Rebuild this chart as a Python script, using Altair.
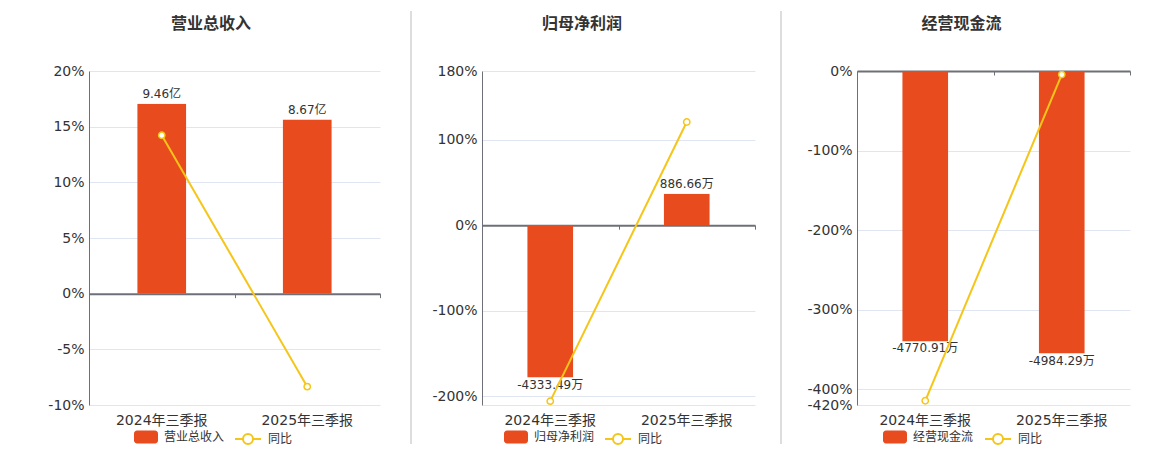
import altair as alt
import pandas as pd

FONT = "DejaVu Sans, Noto Sans CJK SC"
BAR = "#E84B1E"
LINE = "#F5C518"
TXT = "#333333"

periods = ["2024年三季报", "2025年三季报"]
names = ["营业总收入", "归母净利润", "经营现金流"]
units = ["亿", "万", "万"]
amounts_rev = [9.46, 8.67]
amounts_np = [-4333.49, 886.66]
amounts_cf = [-4770.91, -4984.29]
yoy_rev = [14.23, -8.35]
yoy_np = [-205.5, 120.46]
yoy_cf = [-414.7, -4.47]
pct_ticks_rev = [-10, -5, 0, 5, 10, 15, 20]
pct_ticks_np = [-210, -200, -100, 0, 100, 180]
pct_ticks_cf = [-420, -400, -300, -200, -100, 0]

RECT_PATH = ("M-0.75,-0.54 L0.75,-0.54 A0.25,0.25 0 0 1 1,-0.29 L1,0.29 "
             "A0.25,0.25 0 0 1 0.75,0.54 L-0.75,0.54 A0.25,0.25 0 0 1 -1,0.29 "
             "L-1,-0.29 A0.25,0.25 0 0 1 -0.75,-0.54 Z")
LINE_PATH = ("M-1,0 L-0.385,0 M0.385,0 L1,0 M-0.385,0 "
             "A0.385,0.385 0 1 0 0.385,0 A0.385,0.385 0 1 0 -0.385,0")

H = 334
R_POS = alt.ExprRef(expr="datum.amount >= 0 ? 4 : 0")
R_NEG = alt.ExprRef(expr="datum.amount < 0 ? 4 : 0")


def panel(name, unit, amounts, yoy, ticks, hidden, pct_domain, amt_domain,
          width, sep_x, sep_opacity, title_dx, leg1_x, leg2_x):
    df = pd.DataFrame({
        "period": periods,
        "amount": amounts,
        "yoy": yoy,
        "series": name,
        "rate": "同比",
        "label": [f"{v:.2f}{unit}" for v in amounts],
    })
    base = alt.Chart(df)
    lo, hi = pct_domain
    zero_px = H * hi / (hi - lo)
    zero_off = -(H - zero_px)

    xscale = alt.Scale(paddingInner=0, paddingOuter=0)
    xlab = alt.X("period:N", sort=periods, scale=xscale, title=None,
                 axis=alt.Axis(orient="bottom", domain=False, ticks=False, tickSize=0,
                               labelPadding=8, labelFontSize=14, labelColor=TXT,
                               labelFont=FONT, labelAngle=0, grid=False))
    xzero = alt.X("period:N", sort=periods, scale=xscale, title=None,
                  axis=alt.Axis(orient="bottom", offset=zero_off, labels=False,
                                domain=True, domainColor="#6E7079", domainWidth=2,
                                ticks=True, tickBand="extent", tickSize=4,
                                tickColor="#6E7079", tickWidth=1, grid=False))
    ybar = alt.Y("amount:Q", scale=alt.Scale(domain=amt_domain, zero=False, nice=False),
                 axis=None)
    hid = " || ".join([f"datum.value == {h}" for h in hidden]) or "false"
    ypct = alt.Y("yoy:Q", scale=alt.Scale(domain=pct_domain, zero=False, nice=False),
                 title=None,
                 axis=alt.Axis(values=ticks, labelExpr=f"({hid}) ? '' : datum.value + '%'",
                               domain=True, domainColor="#6E7079", domainWidth=1,
                               ticks=False, tickSize=0, labelPadding=5,
                               labelFontSize=14, labelColor=TXT, labelFont=FONT,
                               labelOverlap=False, labelFlush=False, labelBound=False,
                               grid=True, gridColor="#E0E6F1", gridWidth=1))

    bars = base.mark_bar(width=alt.RelativeBandSize(0.337),
                         cornerRadiusTopLeft=R_POS, cornerRadiusTopRight=R_POS,
                         cornerRadiusBottomLeft=R_NEG, cornerRadiusBottomRight=R_NEG).encode(
        x=xlab, y=ybar,
        fill=alt.Fill("series:N", scale=alt.Scale(domain=[name], range=[BAR]),
                      legend=alt.Legend(title=None, orient="none", legendX=leg1_x, legendY=354,
                                        symbolType=RECT_PATH, symbolSize=576,
                                        symbolStrokeWidth=0, labelFontSize=12,
                                        labelColor=TXT, labelFont=FONT, labelOffset=6)))
    txt_pos = base.transform_filter("datum.amount >= 0").mark_text(
        baseline="bottom", dy=-3, fontSize=12, color=TXT, font=FONT
    ).encode(x=xlab, y=ybar, text="label:N")
    txt_neg = base.transform_filter("datum.amount < 0").mark_text(
        baseline="top", dy=2, fontSize=12, color=TXT, font=FONT
    ).encode(x=xlab, y=ybar, text="label:N")
    bar_layer = alt.layer(bars, txt_pos, txt_neg)

    line = base.mark_line(strokeWidth=2).encode(
        x=xzero, y=ypct,
        stroke=alt.Stroke("rate:N", scale=alt.Scale(domain=["同比"], range=[LINE]),
                          legend=alt.Legend(title=None, orient="none", legendX=leg2_x,
                                            legendY=354, symbolType=LINE_PATH,
                                            symbolSize=676, symbolStrokeWidth=2,
                                            symbolFillColor="white",
                                            labelFontSize=12, labelColor=TXT,
                                            labelFont=FONT, labelOffset=6)))
    pts = base.mark_point(filled=True, fill="white", stroke=LINE, strokeWidth=1.5,
                          size=40, opacity=1).encode(x=xzero, y=ypct)
    line_layer = alt.layer(line, pts)

    sep = alt.Chart(alt.Data(values=[{"k": 1}])).mark_rule(
        color="#BBBBBB", strokeWidth=1, strokeOpacity=sep_opacity
    ).encode(x=alt.value(sep_x), y=alt.value(-60), y2=alt.value(373))

    return alt.layer(bar_layer, line_layer, sep).resolve_scale(
        y="independent"
    ).resolve_axis(x="independent").properties(
        width=width, height=H,
        title=alt.TitleParams(name, anchor="middle", frame="group", dx=title_dx,
                              offset=-29, baseline="middle", fontSize=16,
                              fontWeight="bold", color=TXT, font=FONT))


p1 = panel(names[0], units[0], amounts_rev, yoy_rev, pct_ticks_rev, [], [-10, 20],
           [-5.543, 11.087], 291, 0, 0, -23.5, 45, 145)
p2 = panel(names[1], units[1], amounts_np, yoy_np, pct_ticks_np, [-210], [-210, 180],
           [-5114, 4375], 273, -71, 1, -36.5, 22, 122)
p3 = panel(names[2], units[2], amounts_cf, yoy_cf, pct_ticks_cf, [], [-420, 0],
           [-5891, 0], 273, -76, 1, -32, 26, 127)

chart = alt.hconcat(p1, p2, p3, spacing=102, bounds="flush").resolve_scale(
    fill="independent", stroke="independent", y="independent", x="independent"
).properties(
    padding={"left": 39, "top": 2, "right": 0, "bottom": 0}
).configure_view(stroke=None).configure_legend(padding=0)

chart.save("out.html", embed_options={"renderer": "svg", "actions": False})
